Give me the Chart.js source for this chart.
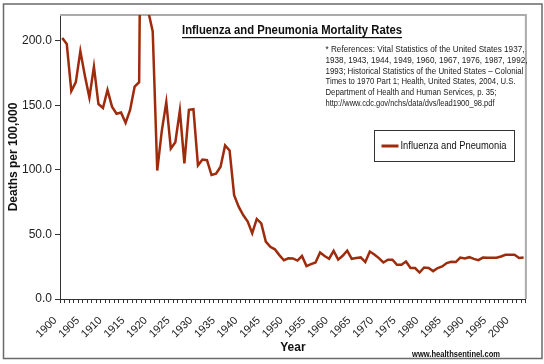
<!DOCTYPE html>
<html>
<head>
<meta charset="utf-8">
<script src="https://cdn.jsdelivr.net/npm/chart.js@4/dist/chart.umd.min.js"></script>
<style>
  html, body { margin: 0; padding: 0; background: #fff; }
  #wrap { width: 544px; height: 364px; position: relative; }
</style>
</head>
<body>
<div id="wrap"><canvas id="chart"></canvas></div>
<script>
// years on the category axis
const years = [
  1900, 1901, 1902, 1903, 1904, 1905, 1906, 1907, 1908, 1909,
  1910, 1911, 1912, 1913, 1914, 1915, 1916, 1917, 1918, 1919,
  1920, 1921, 1922, 1923, 1924, 1925, 1926, 1927, 1928, 1929,
  1930, 1931, 1932, 1933, 1934, 1935, 1936, 1937, 1938, 1939,
  1940, 1941, 1942, 1943, 1944, 1945, 1946, 1947, 1948, 1949,
  1950, 1951, 1952, 1953, 1954, 1955, 1956, 1957, 1958, 1959,
  1960, 1961, 1962, 1963, 1964, 1965, 1966, 1967, 1968, 1969,
  1970, 1971, 1972, 1973, 1974, 1975, 1976, 1977, 1978, 1979,
  1980, 1981, 1982, 1983, 1984, 1985, 1986, 1987, 1988, 1989,
  1990, 1991, 1992, 1993, 1994, 1995, 1996, 1997, 1998, 1999,
  2000, 2001, 2002
];

// deaths per 100,000 (1918 runs off the top of the chart)
const fluPneumonia = [
  202.2, 197.5, 161.0, 168.0, 192.0, 173.0, 156.0, 180.0, 151.0, 148.0,
  162.0, 149.0, 143.5, 144.5, 136.5, 146.5, 164.5, 168.0, 588.5, 223.0,
  207.3, 99.5, 130.0, 152.5, 116.5, 121.5, 146.0, 105.0, 146.5, 147.0,
  103.5, 108.0, 107.5, 96.0, 97.0, 102.5, 119.0, 115.0, 80.5, 71.5,
  65.0, 60.0, 51.0, 62.0, 58.5, 44.5, 40.5, 38.5, 34.0, 30.0,
  31.5, 31.4, 29.8, 33.3, 25.5, 27.0, 28.3, 36.0, 33.3, 31.2,
  37.3, 30.5, 33.5, 37.5, 31.1, 31.7, 32.2, 28.6, 36.8, 34.5,
  31.7, 28.3, 30.4, 30.4, 26.5, 26.5, 29.0, 24.0, 24.0, 20.5,
  24.4, 24.0, 21.6, 24.0, 25.2, 27.8, 28.8, 28.6, 32.1, 31.4,
  32.4, 31.1, 30.1, 32.1, 31.9, 31.9, 31.9, 32.9, 34.2, 34.2,
  34.2, 31.7, 32.1
];

const seriesName = 'Influenza and Pneumonia';
const chartTitle = 'Influenza and Pneumonia Mortality Rates';
const refLines = [
  '* References: Vital Statistics of the United States 1937,',
  '1938, 1943, 1944, 1949, 1960, 1967, 1976, 1987, 1992,',
  '1993; Historical Statistics of the United States \u2013 Colonial',
  'Times to 1970 Part 1; Health, United States, 2004, U.S.',
  'Department of Health and Human Services, p. 35;',
  'http://www.cdc.gov/nchs/data/dvs/lead1900_98.pdf'
];
const refWidths = [199, 202, 198, 190, 171, 169];
const yMin = 0;
const yMax = 220;
const yStep = 50;

const decor = {
  id: 'decor',
  beforeDraw(chart) {
    const ctx = chart.ctx;
    ctx.save();
    ctx.fillStyle = '#ffffff';
    ctx.fillRect(0, 0, chart.width, chart.height);
    ctx.strokeStyle = '#6a6a6a';
    ctx.lineWidth = 1.5;
    ctx.strokeRect(3.5, 4, 538.5, 354.5);
    ctx.restore();
  },
  beforeDatasetsDraw(chart) {
    const ctx = chart.ctx;
    const a = chart.chartArea;
    ctx.save();
    ctx.strokeStyle = '#ababab';
    ctx.lineWidth = 2;
    ctx.beginPath();
    ctx.moveTo(a.left, a.top);
    ctx.lineTo(a.right, a.top);
    ctx.lineTo(a.right, a.bottom);
    ctx.stroke();
    ctx.restore();
  },
  afterDraw(chart) {
    const ctx = chart.ctx;
    const ds = chart.data.datasets[0];
    ctx.save();
    ctx.fillStyle = '#111';
    ctx.textBaseline = 'middle';
    ctx.textAlign = 'left';

    // title, underlined
    ctx.font = 'bold 12px Arial, "Liberation Sans", sans-serif';
    ctx.fillText(chartTitle, 182, 31, 220);
    const tw = Math.min(ctx.measureText(chartTitle).width, 220);
    ctx.fillRect(182, 37, tw, 1.2);

    // references note
    ctx.font = '9px Arial, "Liberation Sans", sans-serif';
    ctx.fillStyle = '#222';
    refLines.forEach((t, i) => {
      ctx.fillText(t, 325.5, 49.5 + i * 10.8, refWidths[i]);
    });

    // legend box
    ctx.strokeStyle = '#333';
    ctx.lineWidth = 1;
    ctx.strokeRect(374.5, 130.5, 140, 31);
    ctx.strokeStyle = ds.borderColor;
    ctx.lineWidth = 3;
    ctx.beginPath();
    ctx.moveTo(381.5, 146);
    ctx.lineTo(398.5, 146);
    ctx.stroke();
    ctx.fillStyle = '#111';
    ctx.font = '10px Arial, "Liberation Sans", sans-serif';
    ctx.fillText(ds.label, 400.5, 146.5, 106);

    // watermark
    ctx.font = 'bold 9px Arial, "Liberation Sans", sans-serif';
    ctx.fillText('www.healthsentinel.com', 412, 355, 88);
    ctx.restore();
  }
};

const ctx = document.getElementById('chart');
new Chart(ctx, {
  type: 'line',
  data: {
    labels: years.map(String),
    datasets: [{
      label: seriesName,
      data: fluPneumonia,
      borderColor: '#9e2b0c',
      backgroundColor: '#9e2b0c',
      borderWidth: 2.5,
      pointRadius: 0,
      tension: 0,
      fill: false
    }]
  },
  options: {
    responsive: true,
    maintainAspectRatio: false,
    animation: false,
    events: [],
    layout: { padding: { top: 15, right: 13, left: 0, bottom: 0 } },
    plugins: {
      legend: { display: false },
      tooltip: { enabled: false },
      title: { display: false }
    },
    scales: {
      x: {
        type: 'category',
        offset: true,
        afterFit: (s) => { s.height = 65; },
        grid: {
          offset: true,
          drawOnChartArea: false,
          drawTicks: true,
          tickLength: 4,
          color: '#333'
        },
        border: { display: true, color: '#333', width: 1 },
        ticks: {
          autoSkip: false,
          maxRotation: 45,
          minRotation: 45,
          padding: 11,
          labelOffset: -7,
          color: '#222',
          font: { family: 'Arial, "Liberation Sans", sans-serif', size: 11 },
          callback: (v, i) => (years[i] % 5 === 0 ? String(years[i]) : '')
        },
        title: {
          display: true,
          text: 'Year',
          color: '#111',
          font: { family: 'Arial, "Liberation Sans", sans-serif', size: 12, weight: 'bold' },
          padding: { top: 0, bottom: 9 }
        }
      },
      y: {
        min: yMin,
        max: yMax,
        afterFit: (s) => { s.width = 60; },
        grid: {
          drawOnChartArea: false,
          drawTicks: true,
          tickLength: 5,
          color: '#333'
        },
        border: { display: true, color: '#333', width: 1 },
        ticks: {
          stepSize: yStep,
          includeBounds: false,
          padding: 3,
          color: '#222',
          font: { family: 'Arial, "Liberation Sans", sans-serif', size: 12 },
          callback: (v) => Number(v).toFixed(1)
        },
        title: {
          display: true,
          text: 'Deaths per 100,000',
          color: '#111',
          font: { family: 'Arial, "Liberation Sans", sans-serif', size: 12, weight: 'bold' },
          padding: { top: 6, bottom: 0 }
        }
      }
    }
  },
  plugins: [decor]
});
</script>
</body>
</html>
